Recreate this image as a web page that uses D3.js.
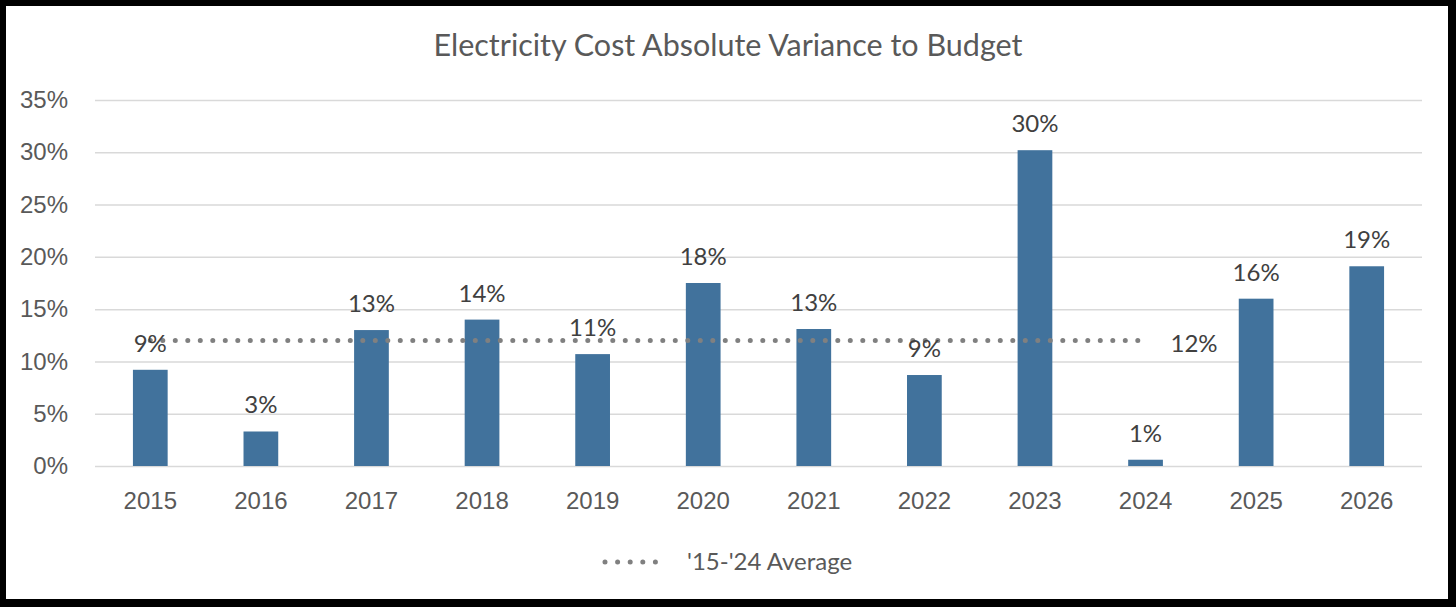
<!DOCTYPE html>
<html>
<head>
<meta charset="utf-8">
<script src="https://cdn.jsdelivr.net/npm/d3@7"></script>
<style>
  html, body { margin: 0; padding: 0; background: #fff; }
  svg { display: block; font-family: Lato, "Open Sans", sans-serif; }
</style>
</head>
<body>
<svg id="chart"></svg>
<script>
// values
const years = ["2015", "2016", "2017", "2018", "2019", "2020", "2021", "2022", "2023", "2024", "2025", "2026"];
const variance = [0.092, 0.033, 0.130, 0.140, 0.107, 0.175, 0.131, 0.087, 0.302, 0.006, 0.160, 0.191];
const avgYears = ["2015", "2016", "2017", "2018", "2019", "2020", "2021", "2022", "2023", "2024"];
const avgValues = [0.12, 0.12, 0.12, 0.12, 0.12, 0.12, 0.12, 0.12, 0.12, 0.12];
const yTicks = [0, 0.05, 0.10, 0.15, 0.20, 0.25, 0.30, 0.35];
const title = "Electricity Cost Absolute Variance to Budget";
const legendLabel = "'15-'24 Average";

const W = 1456, H = 607;
const plot = { left: 95, right: 1422, top: 100, bottom: 466 };

const svg = d3.select("#chart").attr("width", W).attr("height", H);

// frame
svg.append("rect").attr("width", W).attr("height", H).attr("fill", "#000");
svg.append("rect").attr("x", 6).attr("y", 6).attr("width", W - 14).attr("height", H - 14).attr("fill", "#fff");

const x = d3.scaleBand().domain(years).range([plot.left, plot.right]).padding(0);
const y = d3.scaleLinear().domain([0, 0.35]).range([plot.bottom, plot.top]);
const barW = x.bandwidth() * 0.314;
const pct = d3.format(".0%");

svg.append("text")
    .attr("x", W / 2).attr("y", 56)
    .attr("text-anchor", "middle")
    .attr("font-size", 30.5)
    .attr("fill", "#595959")
    .text(title);

// y axis + gridlines
const yAxis = svg.append("g")
    .attr("transform", "translate(" + plot.left + ",0)")
    .call(d3.axisLeft(y).tickValues(yTicks).tickFormat(pct).tickSize(-(plot.right - plot.left)).tickPadding(27));
yAxis.select(".domain").remove();
yAxis.selectAll(".tick line").attr("stroke", "#d9d9d9").attr("stroke-width", 1.5);
yAxis.selectAll(".tick text").attr("font-size", 24).attr("fill", "#595959").attr("font-family", null);

// x axis labels
const xAxis = svg.append("g")
    .attr("transform", "translate(0," + plot.bottom + ")")
    .call(d3.axisBottom(x).tickSize(0).tickPadding(26));
xAxis.select(".domain").remove();
xAxis.selectAll(".tick text").attr("font-size", 24).attr("fill", "#595959").attr("font-family", null);

// bars
svg.append("g").selectAll("rect")
    .data(variance)
    .join("rect")
    .attr("x", (d, i) => x(years[i]) + (x.bandwidth() - barW) / 2)
    .attr("y", d => y(d))
    .attr("width", barW)
    .attr("height", d => y(0) - y(d))
    .attr("fill", "#41729c");

// average dotted line
const line = d3.line()
    .x((d, i) => x(avgYears[i]) + x.bandwidth() / 2)
    .y(d => y(d));
svg.append("path")
    .datum(avgValues)
    .attr("d", line)
    .attr("fill", "none")
    .attr("stroke", "#808080")
    .attr("stroke-width", 5)
    .attr("stroke-linecap", "round")
    .attr("stroke-dasharray", "0 12.5");

// bar data labels
svg.append("g").selectAll("text")
    .data(variance)
    .join("text")
    .attr("x", (d, i) => x(years[i]) + x.bandwidth() / 2)
    .attr("y", d => y(d) - 18)
    .attr("text-anchor", "middle")
    .attr("font-size", 24)
    .attr("fill", "#404040")
    .text(d => pct(d));

// average label at the last point
const lastI = avgValues.length - 1;
svg.append("text")
    .attr("x", x(avgYears[lastI]) + x.bandwidth() / 2 + 25)
    .attr("y", y(avgValues[lastI]) + 11)
    .attr("font-size", 24)
    .attr("fill", "#404040")
    .text(pct(avgValues[lastI]));

// legend
const lg = svg.append("g").attr("transform", "translate(605,562)");
lg.append("line")
    .attr("x1", 0).attr("x2", 63)
    .attr("stroke", "#808080")
    .attr("stroke-width", 5)
    .attr("stroke-linecap", "round")
    .attr("stroke-dasharray", "0 12.6");
lg.append("text")
    .attr("x", 82).attr("y", 8)
    .attr("font-size", 24)
    .attr("fill", "#595959")
    .text(legendLabel);
</script>
</body>
</html>
